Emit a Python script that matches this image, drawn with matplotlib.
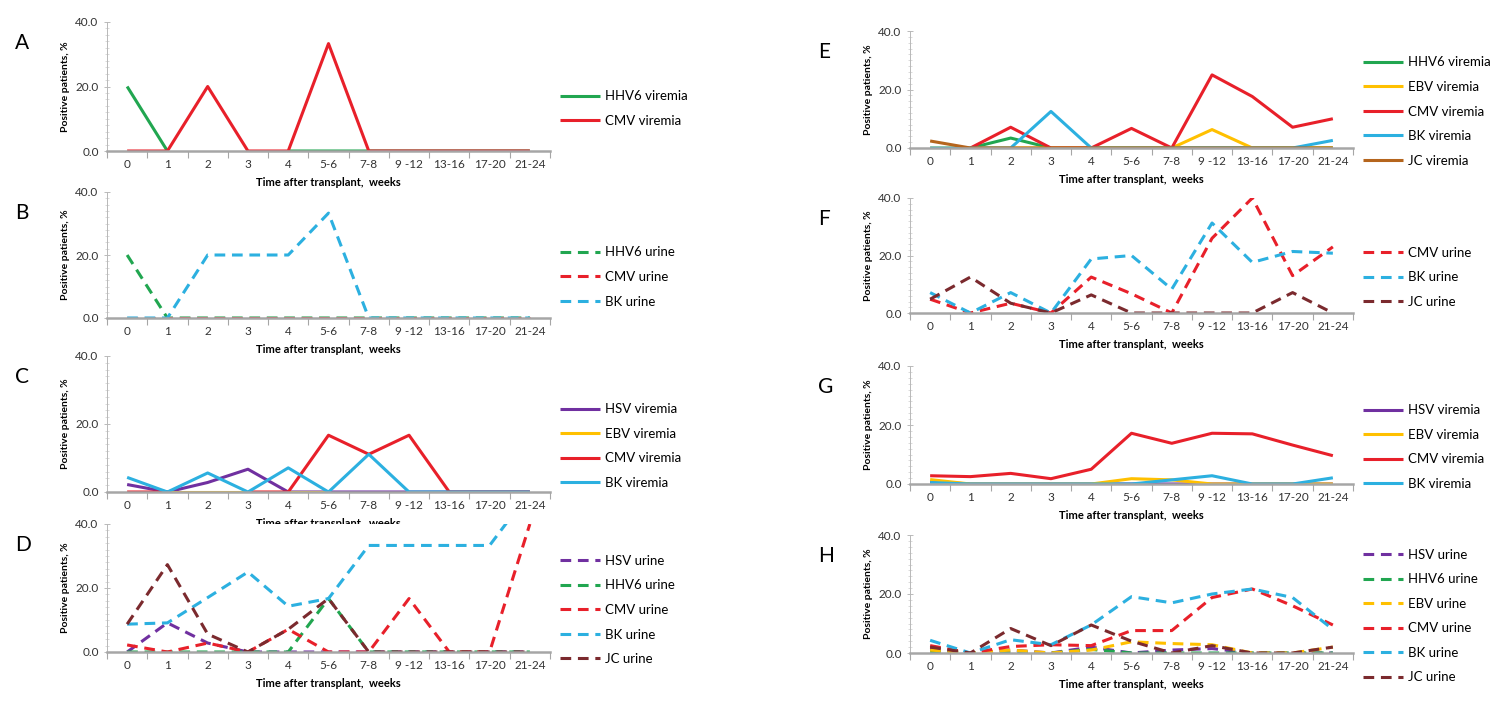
import numpy as np
import matplotlib
matplotlib.use("Agg")
import matplotlib.pyplot as plt

plt.rcParams['font.family'] = ['Lato', 'DejaVu Sans']

nan = np.nan
weeks = ['0', '1', '2', '3', '4', '5-6', '7-8', '9 -12', '13-16', '17-20', '21-24']

# A - viremia (first cohort)
a_hhv6 = [20.0, 0, nan, nan, 0, 0, 0, 0, 0, 0, 0]
a_cmv = [0, 0, 20.0, 0, 0, 33.3, 0, 0, 0, 0, 0]

# B - urine (first cohort)
b_hhv6 = [20.0, 0, 0, 0, 0, 0, 0, 0, 0, 0, 0]
b_cmv = [0, 0, 0, 0, 0, 0, 0, 0, 0, 0, 0]
b_bk = [0, 0, 20.0, 20.0, 20.0, 33.3, 0, 0, 0, 0, 0]

# C - viremia (second cohort)
c_hsv = [2.2, 0, 2.8, 6.7, 0, 0, 0, 0, 0, 0, 0]
c_ebv = [nan, 0, 0, 0, 0, 0, nan, nan, nan, nan, nan]
c_cmv = [0, 0, nan, 0, 0, 16.7, 11.1, 16.7, 0, 0, 0]
c_bk = [4.3, 0, 5.6, 0, 7.1, 0, 11.1, 0, 0, 0, 0]

# D - urine (second cohort)
d_hsv = [0, 9.1, 2.8, 0, 0, 0, 0, 0, 0, 0, 0]
d_hhv6 = [0, 0, 0, 0, 0, 16.7, 0, 0, 0, 0, 0]
d_cmv = [2.2, 0, 2.8, 0, 7.1, 0, 0, 16.7, 0, 0, 40.0]
d_bk = [8.7, 9.1, 17.0, 25.0, 14.3, 16.7, 33.3, 33.3, 33.3, 33.3, 50.0]
d_jc = [8.7, 27.3, 5.6, 0, 7.1, 16.7, 0, 0, 0, 0, 0]

# E - viremia (third cohort)
e_hhv6 = [nan, 0, 3.4, 0, 0, 0, 0, 0, 0, 0, 0]
e_ebv = [0, 0, 0, 0, 0, 0, 0, 6.3, 0, 0, 0]
e_cmv = [nan, 0, 7.1, 0, 0, 6.7, 0, 25.0, 17.6, 7.1, 10.0]
e_bk = [0, 0, 0, 12.5, 0, 0, 0, 0, 0, 0, 2.6]
e_jc = [2.4, 0, 0, 0, 0, 0, 0, 0, 0, 0, 0]

# F - urine (third cohort)
f_cmv = [4.8, 0, 3.4, 0, 12.5, 6.7, 0, 26.0, 40.0, 13.0, 23.0]
f_bk = [7.1, 0, 7.1, 0, 18.8, 20.0, 8.3, 31.3, 17.6, 21.4, 20.8]
f_jc = [4.8, 12.5, 3.4, 0, 6.3, 0, 0, 0, 0, 7.1, 0]

# G - viremia (fourth cohort)
g_hsv = [0.8, 0, 0, 0, 0, 0, 0, 0, 0, 0, 0]
g_ebv = [1.5, 0, 0, 0, 0, 1.8, 1.4, 0, 0, 0, 0]
g_cmv = [2.8, 2.5, 3.6, 1.8, 5.0, 17.2, 13.8, 17.2, 17.0, 13.2, 9.6]
g_bk = [0.5, 0, 0, 0, 0, 0, 1.4, 2.8, 0, 0, 2.1]

# H - urine (fourth cohort)
h_hsv = [1.5, 0, 1.0, 0, 2.0, 0, 1.0, 1.5, 0, 0, 0]
h_hhv6 = [0.5, 0, 0, 0, 1.2, 0, 0, 0, 0, 0, 0]
h_ebv = [1.0, 0, 1.0, 0, 1.0, 3.8, 3.2, 2.8, 0, 0, 2.0]
h_cmv = [2.5, 0, 2.2, 2.8, 2.5, 7.6, 7.6, 18.8, 21.7, 16.0, 9.5]
h_bk = [4.3, 0, 4.5, 2.8, 9.5, 19.1, 17.0, 20.0, 21.7, 18.8, 8.0]
h_jc = [2.0, 0, 8.3, 2.5, 9.5, 4.0, 0, 2.5, 0, 0, 2.0]

col = {'HSV': '#7030a0', 'HHV6': '#21a650', 'EBV': '#ffc000', 'CMV': '#e8202a',
       'BK': '#2cb0e0', 'JCv': '#b5651d', 'JCu': '#7b2a2e'}

# panel letter, (left px, top px, bottom px), series (label, values, colour, dashed)
panels = [
    ('A', (107, 22, 151), [('HHV6 viremia', a_hhv6, 'HHV6', False),
                           ('CMV viremia', a_cmv, 'CMV', False)]),
    ('B', (107, 192, 318), [('HHV6 urine', b_hhv6, 'HHV6', True),
                            ('CMV urine', b_cmv, 'CMV', True),
                            ('BK urine', b_bk, 'BK', True)]),
    ('C', (107, 356, 492), [('HSV viremia', c_hsv, 'HSV', False),
                            ('EBV viremia', c_ebv, 'EBV', False),
                            ('CMV viremia', c_cmv, 'CMV', False),
                            ('BK viremia', c_bk, 'BK', False)]),
    ('D', (107, 524, 652), [('HSV urine', d_hsv, 'HSV', True),
                            ('HHV6 urine', d_hhv6, 'HHV6', True),
                            ('CMV urine', d_cmv, 'CMV', True),
                            ('BK urine', d_bk, 'BK', True),
                            ('JC urine', d_jc, 'JCu', True)]),
    ('E', (910, 31, 148), [('HHV6 viremia', e_hhv6, 'HHV6', False),
                           ('EBV viremia', e_ebv, 'EBV', False),
                           ('CMV viremia', e_cmv, 'CMV', False),
                           ('BK viremia', e_bk, 'BK', False),
                           ('JC viremia', e_jc, 'JCv', False)]),
    ('F', (910, 198, 313), [('CMV urine', f_cmv, 'CMV', True),
                            ('BK urine', f_bk, 'BK', True),
                            ('JC urine', f_jc, 'JCu', True)]),
    ('G', (910, 366, 484), [('HSV viremia', g_hsv, 'HSV', False),
                            ('EBV viremia', g_ebv, 'EBV', False),
                            ('CMV viremia', g_cmv, 'CMV', False),
                            ('BK viremia', g_bk, 'BK', False)]),
    ('H', (910, 535, 653), [('HSV urine', h_hsv, 'HSV', True),
                            ('HHV6 urine', h_hhv6, 'HHV6', True),
                            ('EBV urine', h_ebv, 'EBV', True),
                            ('CMV urine', h_cmv, 'CMV', True),
                            ('BK urine', h_bk, 'BK', True),
                            ('JC urine', h_jc, 'JCu', True)]),
]

W, H = 1500, 705
fig = plt.figure(figsize=(W / 100, H / 100), dpi=100)
x = np.arange(len(weeks))

for letter, (lpx, tpx, bpx), series in panels:
    ax = fig.add_axes([lpx / W, 1 - bpx / H, 443 / W, (bpx - tpx) / H])
    for label, vals, c, dashed in series:
        ax.plot(x, vals, color=col[c], lw=2.2, label=label,
                ls=(0, (3.5, 2.2)) if dashed else '-', solid_capstyle='butt')
    ax.set_xlim(-0.5, len(weeks) - 0.5)
    ax.set_ylim(0, 40)
    ax.set_yticks([0, 20, 40])
    ax.set_yticklabels(['0.0', '20.0', '40.0'])
    ax.set_yticks(np.arange(0, 41, 2), minor=True)
    ax.set_xticks(x)
    ax.set_xticklabels(weeks)
    ax.set_xticks(np.arange(-0.5, len(weeks), 1), minor=True)
    ax.tick_params(axis='x', which='major', length=0, pad=6, labelsize=8.5, labelcolor='#333333')
    ax.tick_params(axis='x', which='minor', length=5, width=0.8, color='#a6a6a6', direction='out')
    ax.tick_params(axis='y', which='major', length=4, width=0.6, color='#b0b0b0',
                   direction='inout', labelsize=8.5, labelcolor='#333333', pad=4)
    ax.tick_params(axis='y', which='minor', length=2.5, width=0.4, color='#c0c0c0', direction='inout')
    for s in ['top', 'right']:
        ax.spines[s].set_visible(False)
    ax.spines['left'].set_color('#b8b8b8')
    ax.spines['left'].set_linewidth(0.7)
    ax.spines['bottom'].set_color('#a6a6a6')
    ax.spines['bottom'].set_linewidth(1.8)
    ax.set_xlabel('Time after transplant,  weeks', fontsize=8, fontweight='bold', labelpad=5)
    ax.set_ylabel('Positive patients, %', fontsize=7.5, fontweight='bold', labelpad=4)

    # legend to the right, centred a little below the axes centre
    ymid = (tpx + bpx) / 2 + 22
    ax.legend(loc='center left', bbox_to_anchor=((lpx + 453) / W, 1 - ymid / H),
              bbox_transform=fig.transFigure, frameon=False, fontsize=9.5,
              handlelength=3.0, handletextpad=0.4, labelspacing=0.95,
              borderpad=0, borderaxespad=0)

    lx = 15 if lpx < 500 else 818
    fig.text(lx / W, 1 - (tpx + 21) / H, letter, fontsize=15, va='center', ha='left')

fig.savefig('out.png', dpi=100)
